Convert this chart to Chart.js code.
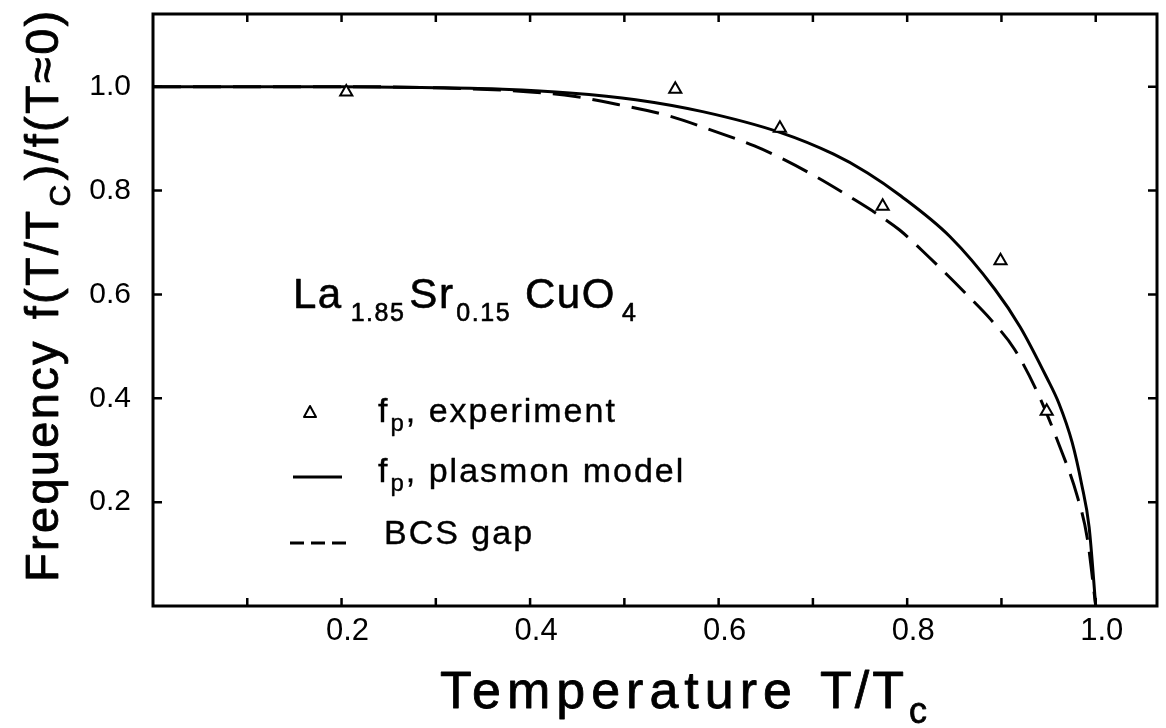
<!DOCTYPE html>
<html>
<head>
<meta charset="utf-8">
<script src="https://cdn.jsdelivr.net/npm/chart.js@4/dist/chart.umd.min.js"></script>
<style>
  html, body { margin: 0; padding: 0; background: #fff; }
  #wrap { width: 1166px; height: 728px; }
</style>
</head>
<body>
<div id="wrap"><canvas id="chart" width="1166" height="728"></canvas></div>
<script>
// Measured plasma frequency, T/Tc vs f(T)/f(0)
const expT = [0.205, 0.554, 0.665, 0.774, 0.899, 0.948];
const expF = [0.99, 0.995, 0.92, 0.77, 0.665, 0.375];

// Plasmon model curve
const modelT = [0, 0.1, 0.2, 0.3, 0.371, 0.442, 0.512, 0.583, 0.665, 0.722, 0.758, 0.793, 0.845, 0.893, 0.920, 0.948, 0.961, 0.975, 0.985, 0.993, 1.0];
const modelF = [1.0, 1.0, 1.0, 0.998, 0.995, 0.988, 0.975, 0.952, 0.912, 0.870, 0.834, 0.790, 0.712, 0.610, 0.537, 0.440, 0.390, 0.315, 0.235, 0.152, 0.0];

// BCS gap curve
const bcsT = [0, 0.1, 0.2, 0.3, 0.4, 0.448, 0.495, 0.547, 0.596, 0.638, 0.669, 0.705, 0.740, 0.768, 0.792, 0.823, 0.862, 0.889, 0.914, 0.940, 0.961, 0.980, 0.991, 1.0];
const bcsF = [1.0, 1.0, 1.0, 0.998, 0.99, 0.981, 0.965, 0.944, 0.914, 0.886, 0.860, 0.825, 0.787, 0.755, 0.724, 0.672, 0.602, 0.551, 0.494, 0.404, 0.311, 0.214, 0.131, 0.0];

// axis ticks
const xTickLabels = [0.2, 0.4, 0.6, 0.8, 1.0];
const xMinorTicks = [0.1, 0.2, 0.3, 0.4, 0.5, 0.6, 0.7, 0.8, 0.9, 1.0];
const yTickLabels = [0.2, 0.4, 0.6, 0.8, 1.0];

const FONT = '"Liberation Sans", Arial, Helvetica, sans-serif';

const toPoints = (xs, ys) => xs.map((v, i) => ({ x: v, y: ys[i] }));

// draw a run of text pieces (main text and subscripts) one after another
function drawRuns(ctx, runs, x, y, spacing, stroke) {
  ctx.letterSpacing = spacing + 'px';
  ctx.lineWidth = stroke || 0;
  runs.forEach(r => {
    ctx.font = r.size + 'px ' + FONT;
    x += r.pre || 0;
    ctx.fillText(r.text, x, y + (r.dy || 0));
    if (stroke) ctx.strokeText(r.text, x, y + (r.dy || 0));
    x += ctx.measureText(r.text).width;
  });
  ctx.letterSpacing = '0px';
  return x;
}

// frame, inward ticks, titles, formula and key
const decor = {
  id: 'decor',
  afterDraw(chart) {
    const { ctx, chartArea: a, scales: { x, y } } = chart;
    ctx.save();
    ctx.strokeStyle = '#000';
    ctx.fillStyle = '#000';
    ctx.lineWidth = 3;
    ctx.strokeRect(a.left, a.top, a.right - a.left, a.bottom - a.top);

    ctx.lineWidth = 2.5;
    ctx.beginPath();
    xMinorTicks.forEach(v => {
      const px = x.getPixelForValue(v);
      ctx.moveTo(px, a.bottom); ctx.lineTo(px, a.bottom - 8);
      ctx.moveTo(px, a.top); ctx.lineTo(px, a.top + 8);
    });
    yTickLabels.forEach(v => {
      const py = y.getPixelForValue(v);
      ctx.moveTo(a.left, py); ctx.lineTo(a.left + 9, py);
      ctx.moveTo(a.right, py); ctx.lineTo(a.right - 9, py);
    });
    ctx.stroke();

    ctx.textBaseline = 'alphabetic';
    ctx.textAlign = 'left';
    ctx.lineJoin = 'round';

    // x axis title
    let tx = drawRuns(ctx, [{ text: 'Temperature', size: 52 }], 440, 708, 6, 0.8);
    drawRuns(ctx, [
      { text: 'T/T', size: 52, pre: 22 },
      { text: 'c', size: 36, dy: 15, pre: 2 }
    ], tx, 708, 3, 0.8);

    // y axis title
    ctx.save();
    ctx.translate(58, 582);
    ctx.rotate(-Math.PI / 2);
    drawRuns(ctx, [
      { text: 'Frequency', size: 47 },
      { text: 'f(T/T', size: 47, pre: 20 },
      { text: 'C', size: 30, dy: 12, pre: 2 },
      { text: ')/f(T\u22480)', size: 47, pre: 2 }
    ], 0, 0, 2.3, 0.8);
    ctx.restore();

    // compound formula
    drawRuns(ctx, [
      { text: 'La', size: 42 },
      { text: '1.85', size: 25, dy: 13, pre: 8 },
      { text: 'Sr', size: 42, pre: 4 },
      { text: '0.15', size: 25, dy: 13, pre: 2 },
      { text: 'CuO', size: 42, pre: 14 },
      { text: '4', size: 25, dy: 13, pre: 6 }
    ], 293, 308, 1.5, 0.6);

    // key
    ctx.lineWidth = 2;
    ctx.beginPath();
    ctx.moveTo(310, 406); ctx.lineTo(316, 417); ctx.lineTo(304, 417); ctx.closePath();
    ctx.stroke();

    ctx.lineWidth = 3;
    ctx.beginPath();
    ctx.moveTo(293, 477); ctx.lineTo(342, 477);
    ctx.stroke();

    ctx.setLineDash([14, 7]);
    ctx.beginPath();
    ctx.moveTo(290, 543); ctx.lineTo(348, 543);
    ctx.stroke();
    ctx.setLineDash([]);

    drawRuns(ctx, [
      { text: 'f', size: 34 },
      { text: 'p', size: 24, dy: 9, pre: 1 },
      { text: ', experiment', size: 34 }
    ], 378, 422, 2, 0.4);
    drawRuns(ctx, [
      { text: 'f', size: 34 },
      { text: 'p', size: 24, dy: 9, pre: 1 },
      { text: ', plasmon model', size: 34 }
    ], 378, 482, 2, 0.4);
    drawRuns(ctx, [
      { text: 'BCS gap', size: 34 }
    ], 384, 544, 2, 0.4);

    ctx.restore();
  }
};

new Chart(document.getElementById('chart'), {
  type: 'scatter',
  data: {
    datasets: [
      {
        label: 'f_p, plasmon model',
        data: toPoints(modelT, modelF),
        showLine: true,
        borderColor: '#000',
        borderWidth: 3,
        pointRadius: 0,
        cubicInterpolationMode: 'monotone',
        order: 2
      },
      {
        label: 'BCS gap',
        data: toPoints(bcsT, bcsF),
        showLine: true,
        borderColor: '#000',
        borderWidth: 3,
        borderDash: [28, 12],
        pointRadius: 0,
        cubicInterpolationMode: 'monotone',
        order: 3
      },
      {
        label: 'f_p, experiment',
        data: toPoints(expT, expF),
        pointStyle: 'triangle',
        pointRadius: 7,
        borderColor: '#000',
        borderWidth: 2,
        backgroundColor: '#fff',
        order: 1
      }
    ]
  },
  options: {
    responsive: false,
    animation: false,
    layout: { padding: { top: 14, right: 6, left: 0, bottom: 0 } },
    plugins: {
      legend: { display: false },
      tooltip: { enabled: false }
    },
    scales: {
      x: {
        type: 'linear',
        min: 0,
        max: 1.065,
        afterFit: s => { s.height = 122; s.paddingLeft = 0; s.paddingRight = 0; },
        grid: { display: false, drawTicks: false },
        border: { display: false },
        ticks: {
          stepSize: 0.2,
          includeBounds: false,
          autoSkip: false,
          maxRotation: 0,
          padding: 7,
          labelOffset: 6,
          color: '#000',
          font: { family: FONT, size: 31 },
          callback: v => xTickLabels.some(t => Math.abs(t - v) < 1e-6) ? v.toFixed(1) : ''
        }
      },
      y: {
        type: 'linear',
        min: 0,
        max: 1.14,
        afterFit: s => { s.width = 153; s.paddingTop = 0; s.paddingBottom = 0; },
        grid: { display: false, drawTicks: false },
        border: { display: false },
        ticks: {
          stepSize: 0.2,
          includeBounds: false,
          autoSkip: false,
          padding: 22,
          color: '#000',
          font: { family: FONT, size: 30 },
          callback: v => yTickLabels.some(t => Math.abs(t - v) < 1e-6) ? v.toFixed(1) : ''
        }
      }
    }
  },
  plugins: [decor]
});
</script>
</body>
</html>
